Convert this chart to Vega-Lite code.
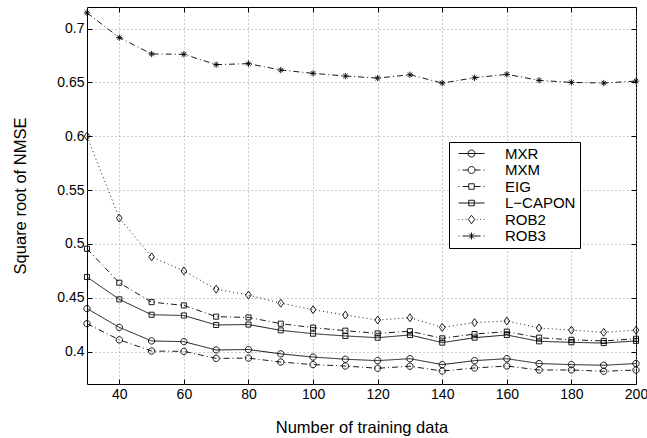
{
 "$schema": "https://vega.github.io/schema/vega-lite/v6.json",
 "width": 549, "height": 377,
 "autosize": {"type": "none"},
 "padding": {"left": 87, "top": 7, "right": 11, "bottom": 54},
 "background": "white",
 "config": {
  "view": {"stroke": "black", "strokeWidth": 1},
  "font": "Liberation Sans",
  "axis": {"labelFont": "Liberation Sans", "titleFont": "Liberation Sans", "labelColor": "black", "titleColor": "black", "titleFontWeight": "normal", "labelFontSize": 14, "titleFontSize": 16.5, "domain": false, "tickColor": "black", "tickSize": -5, "tickWidth": 1, "gridColor": "#9a9a9a", "gridDash": [1, 3], "gridWidth": 1, "labelFlush": false}
 },
 "data": {"values": [
  {"n":30,"method":"MXR","v":0.440},{"n":40,"method":"MXR","v":0.4226},{"n":50,"method":"MXR","v":0.410},{"n":60,"method":"MXR","v":0.4093},{"n":70,"method":"MXR","v":0.4016},{"n":80,"method":"MXR","v":0.402},{"n":90,"method":"MXR","v":0.398},{"n":100,"method":"MXR","v":0.395},{"n":110,"method":"MXR","v":0.393},{"n":120,"method":"MXR","v":0.3917},{"n":130,"method":"MXR","v":0.3935},{"n":140,"method":"MXR","v":0.388},{"n":150,"method":"MXR","v":0.3917},{"n":160,"method":"MXR","v":0.3935},{"n":170,"method":"MXR","v":0.389},{"n":180,"method":"MXR","v":0.388},{"n":190,"method":"MXR","v":0.3874},{"n":200,"method":"MXR","v":0.389},
  {"n":30,"method":"MXM","v":0.426},{"n":40,"method":"MXM","v":0.411},{"n":50,"method":"MXM","v":0.4006},{"n":60,"method":"MXM","v":0.4003},{"n":70,"method":"MXM","v":0.3938},{"n":80,"method":"MXM","v":0.394},{"n":90,"method":"MXM","v":0.3904},{"n":100,"method":"MXM","v":0.388},{"n":110,"method":"MXM","v":0.3867},{"n":120,"method":"MXM","v":0.3846},{"n":130,"method":"MXM","v":0.3865},{"n":140,"method":"MXM","v":0.382},{"n":150,"method":"MXM","v":0.3849},{"n":160,"method":"MXM","v":0.3867},{"n":170,"method":"MXM","v":0.383},{"n":180,"method":"MXM","v":0.383},{"n":190,"method":"MXM","v":0.3818},{"n":200,"method":"MXM","v":0.383},
  {"n":30,"method":"EIG","v":0.4955},{"n":40,"method":"EIG","v":0.464},{"n":50,"method":"EIG","v":0.446},{"n":60,"method":"EIG","v":0.443},{"n":70,"method":"EIG","v":0.4325},{"n":80,"method":"EIG","v":0.4318},{"n":90,"method":"EIG","v":0.426},{"n":100,"method":"EIG","v":0.4223},{"n":110,"method":"EIG","v":0.4195},{"n":120,"method":"EIG","v":0.417},{"n":130,"method":"EIG","v":0.419},{"n":140,"method":"EIG","v":0.4124},{"n":150,"method":"EIG","v":0.4164},{"n":160,"method":"EIG","v":0.4186},{"n":170,"method":"EIG","v":0.413},{"n":180,"method":"EIG","v":0.411},{"n":190,"method":"EIG","v":0.410},{"n":200,"method":"EIG","v":0.412},
  {"n":30,"method":"L−CAPON","v":0.4693},{"n":40,"method":"L−CAPON","v":0.4486},{"n":50,"method":"L−CAPON","v":0.4343},{"n":60,"method":"L−CAPON","v":0.4336},{"n":70,"method":"L−CAPON","v":0.4248},{"n":80,"method":"L−CAPON","v":0.4252},{"n":90,"method":"L−CAPON","v":0.4198},{"n":100,"method":"L−CAPON","v":0.4167},{"n":110,"method":"L−CAPON","v":0.4146},{"n":120,"method":"L−CAPON","v":0.413},{"n":130,"method":"L−CAPON","v":0.4155},{"n":140,"method":"L−CAPON","v":0.4084},{"n":150,"method":"L−CAPON","v":0.413},{"n":160,"method":"L−CAPON","v":0.4155},{"n":170,"method":"L−CAPON","v":0.4096},{"n":180,"method":"L−CAPON","v":0.4087},{"n":190,"method":"L−CAPON","v":0.408},{"n":200,"method":"L−CAPON","v":0.410},
  {"n":30,"method":"ROB2","v":0.600},{"n":40,"method":"ROB2","v":0.524},{"n":50,"method":"ROB2","v":0.488},{"n":60,"method":"ROB2","v":0.475},{"n":70,"method":"ROB2","v":0.458},{"n":80,"method":"ROB2","v":0.4526},{"n":90,"method":"ROB2","v":0.445},{"n":100,"method":"ROB2","v":0.439},{"n":110,"method":"ROB2","v":0.434},{"n":120,"method":"ROB2","v":0.4294},{"n":130,"method":"ROB2","v":0.4315},{"n":140,"method":"ROB2","v":0.4226},{"n":150,"method":"ROB2","v":0.427},{"n":160,"method":"ROB2","v":0.4285},{"n":170,"method":"ROB2","v":0.422},{"n":180,"method":"ROB2","v":0.420},{"n":190,"method":"ROB2","v":0.418},{"n":200,"method":"ROB2","v":0.420},
  {"n":30,"method":"ROB3","v":0.7146},{"n":40,"method":"ROB3","v":0.6916},{"n":50,"method":"ROB3","v":0.6764},{"n":60,"method":"ROB3","v":0.6761},{"n":70,"method":"ROB3","v":0.6665},{"n":80,"method":"ROB3","v":0.6674},{"n":90,"method":"ROB3","v":0.6615},{"n":100,"method":"ROB3","v":0.6584},{"n":110,"method":"ROB3","v":0.6559},{"n":120,"method":"ROB3","v":0.654},{"n":130,"method":"ROB3","v":0.6571},{"n":140,"method":"ROB3","v":0.6494},{"n":150,"method":"ROB3","v":0.6543},{"n":160,"method":"ROB3","v":0.6575},{"n":170,"method":"ROB3","v":0.6519},{"n":180,"method":"ROB3","v":0.650},{"n":190,"method":"ROB3","v":0.6494},{"n":200,"method":"ROB3","v":0.6512}
 ]},
 "resolve": {"scale": {"shape": "independent"}, "axis": {"x": "independent", "y": "independent"}},
 "layer": [
  {
   "mark": {"type": "line", "color": "black", "strokeWidth": 0.9},
   "encoding": {
    "x": {"field": "n", "type": "quantitative", "scale": {"domain": [30, 200], "nice": false, "zero": false},
      "axis": {"orient": "bottom", "values": [40, 60, 80, 100, 120, 140, 160, 180, 200], "title": "Number of training data", "labelPadding": 8, "titleBaseline": "middle", "titleY": 43, "grid": true}},
    "y": {"field": "v", "type": "quantitative", "scale": {"domain": [0.37, 0.72], "nice": false, "zero": false},
      "axis": {"orient": "left", "values": [0.4, 0.45, 0.5, 0.55, 0.6, 0.65, 0.7], "format": ".2~f", "title": "Square root of NMSE", "labelPadding": 8, "titleX": -67, "titleBaseline": "middle", "grid": true}},
    "strokeDash": {"field": "method", "type": "nominal",
      "scale": {"domain": ["MXR", "MXM", "EIG", "L−CAPON", "ROB2", "ROB3"], "range": [[1, 0], [6, 3, 1, 3], [6, 3, 1, 3], [1, 0], [1, 3], [6, 3, 1, 3]]},
      "legend": null}
   }
  },
  {
   "mark": {"type": "point", "filled": false, "color": "black", "strokeWidth": 0.9, "size": 40, "opacity": 1},
   "encoding": {
    "x": {"field": "n", "type": "quantitative", "axis": null},
    "y": {"field": "v", "type": "quantitative", "axis": null},
    "shape": {"field": "method", "type": "nominal",
      "scale": {"domain": ["MXR", "MXM", "EIG", "L−CAPON", "ROB2", "ROB3"],
        "range": ["M1,0A1,1 0 1,1 -1,0A1,1 0 1,1 1,0", "M1,0A1,1 0 1,1 -1,0A1,1 0 1,1 1,0", "M-0.8,-0.8H0.8V0.8H-0.8Z", "M-0.8,-0.8H0.8V0.8H-0.8Z", "M0,-1.25L0.9,0L0,1.25L-0.9,0Z", "M-1,0H1M0,-1V1M-0.7,-0.7L0.7,0.7M-0.7,0.7L0.7,-0.7"]},
      "legend": null}
   }
  },
  {
   "transform": [{"filter": "false"}],
   "mark": {"type": "point", "filled": false, "color": "black", "strokeWidth": 0.9},
   "encoding": {
    "x": {"field": "n", "type": "quantitative", "axis": null},
    "y": {"field": "v", "type": "quantitative", "axis": null},
    "shape": {"field": "method", "type": "nominal",
      "scale": {"domain": ["MXR", "MXM", "EIG", "L−CAPON", "ROB2", "ROB3"],
        "range": [
         "M-2.6,0H2.6M0.7,0A0.7,0.7 0 1,1 -0.7,0A0.7,0.7 0 1,1 0.7,0",
         "M-2.6,0H-2.4M-1.8,0H-0.7M0.7,0H1.8M2.4,0H2.6M0.7,0A0.7,0.7 0 1,1 -0.7,0A0.7,0.7 0 1,1 0.7,0",
         "M-2.6,0H-2.4M-1.8,0H-0.55M0.55,0H1.8M2.4,0H2.6M-0.55,-0.55H0.55V0.55H-0.55Z",
         "M-2.6,0H2.6M-0.55,-0.55H0.55V0.55H-0.55Z",
         "M-2.6,0H-2.45M-1.9,0H-1.75M-1.2,0H-1.05M1.05,0H1.2M1.75,0H1.9M2.45,0H2.6M0,-0.85L0.65,0L0,0.85L-0.65,0Z",
         "M-2.6,0H-2.4M-1.8,0H1.8M2.4,0H2.6M0,-0.7V0.7M-0.5,-0.5L0.5,0.5M-0.5,0.5L0.5,-0.5"
        ]},
      "legend": {"orient": "none", "legendX": 362, "legendY": 135, "title": null, "strokeColor": "black", "fillColor": "white", "padding": 4, "rowPadding": 0.5, "symbolSize": 100, "symbolStrokeColor": "black", "symbolStrokeWidth": 0.9, "symbolFillColor": "transparent", "symbolOpacity": 1, "symbolOffset": 11, "labelOffset": 26, "labelFontSize": 15, "labelFont": "Liberation Sans", "labelColor": "black", "cornerRadius": 0}}
   }
  },
  {
   "transform": [{"filter": "false"}],
   "mark": {"type": "point", "opacity": 0},
   "encoding": {
    "x": {"field": "n", "type": "quantitative",
      "axis": {"orient": "top", "values": [40, 60, 80, 100, 120, 140, 160, 180, 200], "labels": false, "title": null, "grid": false}},
    "y": {"field": "v", "type": "quantitative",
      "axis": {"orient": "right", "values": [0.4, 0.45, 0.5, 0.55, 0.6, 0.65, 0.7], "labels": false, "title": null, "grid": false}}
   }
  }
 ]
}
